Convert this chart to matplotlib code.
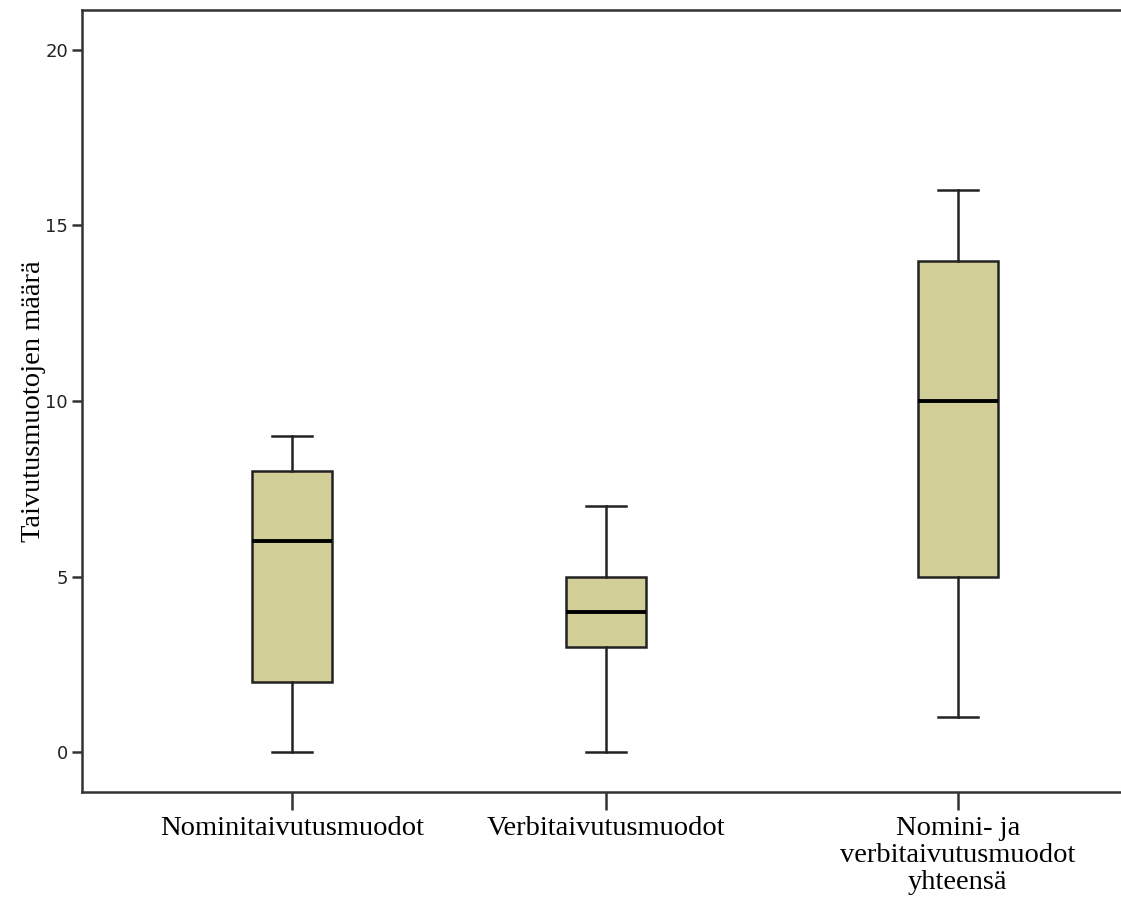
import matplotlib
matplotlib.use('Agg')
import matplotlib.pyplot as plt

# data
categories = ['Nominitaivutusmuodot', 'Verbitaivutusmuodot',
              'Nomini- ja\nverbitaivutusmuodot\nyhteensä']
whislo = [0, 0, 1]
q1 = [2, 3, 5]
med = [6, 4, 10]
q3 = [8, 5, 14]
whishi = [9, 7, 16]
yticks = [0, 5, 10, 15, 20]

# layout (category spacing in the original is slightly uneven)
positions = [1, 2, 3.12]
BOX = '#d2ce98'

fig = plt.figure(figsize=(11.21, 8.99), dpi=100)
ax = fig.add_axes([0.0731, 0.119, 0.9269, 0.8699])

stats = []
for i in range(len(categories)):
    stats.append({'whislo': whislo[i], 'q1': q1[i], 'med': med[i],
                  'q3': q3[i], 'whishi': whishi[i], 'fliers': []})

ax.bxp(stats, positions=positions, widths=0.255, patch_artist=True,
       showfliers=False,
       boxprops=dict(facecolor=BOX, edgecolor='#222222', linewidth=1.8),
       medianprops=dict(color='black', linewidth=2.8),
       whiskerprops=dict(color='#222222', linewidth=1.8),
       capprops=dict(color='#222222', linewidth=1.8),
       capwidths=0.128)

ax.set_xlim(0.331, 3.64)
ax.set_ylim(-1.14, 21.14)
ax.set_yticks(yticks)
ax.set_yticklabels([str(t) for t in yticks], fontsize=13, color='#222222')
ax.set_xticks(positions)
ax.set_xticklabels(categories, fontsize=20.5, family='Liberation Serif',
                   linespacing=1.12)
ax.tick_params(axis='y', length=7, width=1.8, color='#333333', pad=3)
ax.tick_params(axis='x', length=13, width=1.8, color='#333333', pad=4)
ax.set_ylabel('Taivutusmuotojen määrä', fontsize=20.5,
              family='Liberation Serif')
ax.yaxis.set_label_coords(-0.035, 0.5)

for s in ['left', 'bottom', 'top']:
    ax.spines[s].set_linewidth(1.8)
    ax.spines[s].set_color('#333333')
ax.spines['right'].set_visible(False)

fig.savefig('out.png', dpi=100)
